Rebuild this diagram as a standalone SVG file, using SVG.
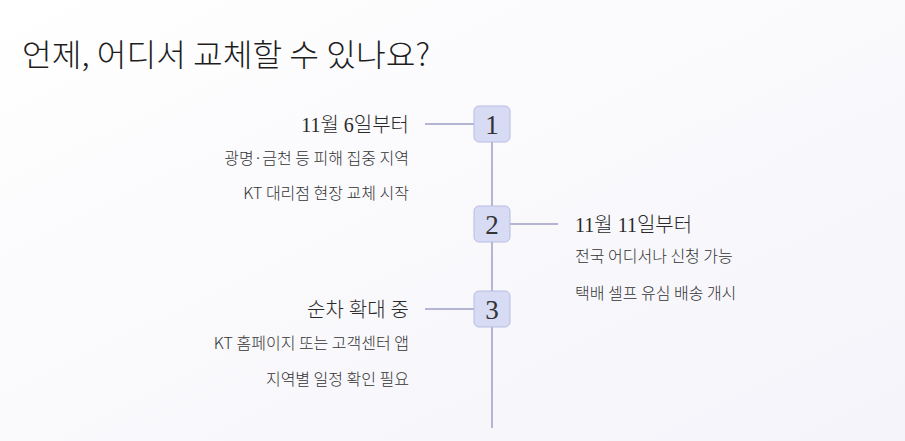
<svg xmlns="http://www.w3.org/2000/svg" width="905" height="441" viewBox="0 0 905 441">
<defs><linearGradient id="bg" x1="0" y1="0" x2="1" y2="1"><stop offset="0" stop-color="#ffffff"/><stop offset="1" stop-color="#f4f4fa"/></linearGradient></defs>
<style>
.t{font-family:"Noto Sans CJK KR","Noto Sans",sans-serif;fill:#1e1e1e;font-weight:300}
.h{font-family:"Liberation Serif","Noto Sans CJK KR",serif;font-size:20px;fill:#2a2a2a;font-weight:300}
.s{font-family:"Noto Sans CJK KR",sans-serif;font-size:16px;fill:#333;font-weight:300}
.b{fill:#d8dbf4;stroke:#b8bce4;stroke-width:1}
.n{font-family:"Liberation Serif",serif;font-size:27px;fill:#333;text-anchor:middle}
.c{stroke:#b3b5d2;stroke-width:2;fill:none}
</style>
<rect width="905" height="441" fill="url(#bg)"/>
<text class="t" x="22" y="66" font-size="31" textLength="408" lengthAdjust="spacingAndGlyphs">언제, 어디서 교체할 수 있나요?</text>
<g id="connectors">
<path class="c" d="M492 142V428M425 124H474M510 224H558M425 309H474"/>
</g>
<g id="n1"><rect class="b" x="474" y="106" width="36" height="36" rx="5"/><text class="n" x="492" y="134">1</text>
<text class="h" x="409" y="132" text-anchor="end">11월 6일부터</text>
<text class="s" x="409" y="164" text-anchor="end">광명·금천 등 피해 집중 지역</text>
<text class="s" x="409" y="199" text-anchor="end">KT 대리점 현장 교체 시작</text></g>
<g id="n2"><rect class="b" x="474" y="206" width="36" height="36" rx="5"/><text class="n" x="492" y="234">2</text>
<text class="h" x="575" y="232">11월 11일부터</text>
<text class="s" x="575" y="262">전국 어디서나 신청 가능</text>
<text class="s" x="575" y="299">택배 셀프 유심 배송 개시</text></g>
<g id="n3"><rect class="b" x="474" y="291" width="36" height="36" rx="5"/><text class="n" x="492" y="319">3</text>
<text class="h" x="409" y="317" text-anchor="end">순차 확대 중</text>
<text class="s" x="409" y="349" text-anchor="end">KT 홈페이지 또는 고객센터 앱</text>
<text class="s" x="409" y="385" text-anchor="end">지역별 일정 확인 필요</text></g>
</svg>
